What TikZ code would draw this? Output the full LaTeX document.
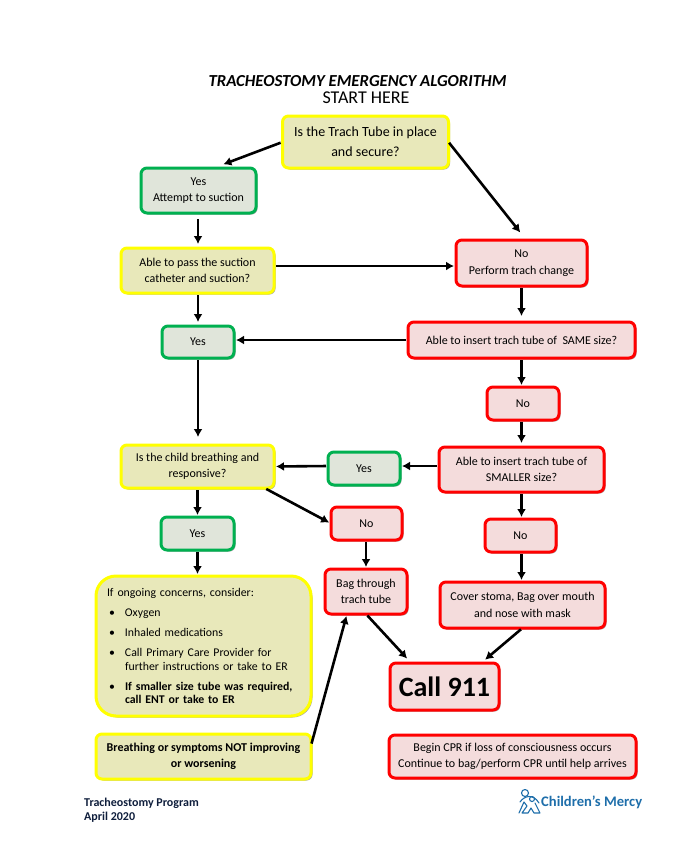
\documentclass[tikz,border=0pt]{standalone}
\usepackage{fontspec}
\setmainfont{Carlito}
\usetikzlibrary{shadows}
\usetikzlibrary{arrows.meta}
\definecolor{askfill}{RGB}{232,232,186}
\definecolor{yesfill}{RGB}{224,229,218}
\definecolor{nofill}{RGB}{244,220,220}
\definecolor{askline}{RGB}{255,255,0}
\definecolor{yesline}{RGB}{0,176,80}
\definecolor{noline}{RGB}{255,0,0}
\definecolor{mercy}{RGB}{30,110,170}
\definecolor{footer}{RGB}{15,30,60}

\begin{document}
\begin{tikzpicture}[
    x=1pt, y=-1pt,
    flowbox/.style={rounded corners=6pt, line width=3pt, outer sep=0pt, inner sep=0pt, align=center,
        font=\fontsize{12}{16.5}\selectfont, general shadow={shadow xshift=1.5pt, shadow yshift=-1.5pt, fill=black!35}},
    askbox/.style={flowbox, draw=askline, fill=askfill},
    yesbox/.style={flowbox, draw=yesline, fill=yesfill},
    nobox/.style={flowbox, draw=noline, fill=nofill},
    link/.style={-{Latex[length=8pt, width=9pt]}, line width=2.6pt, shorten <=2pt, shorten >=2pt},
    logoline/.style={mercy, line width=1.1pt, line join=round, line cap=round}
]
    \useasboundingbox (0, 0) rectangle (699, 855);

    \node[font=\fontsize{16.8}{18}\selectfont\bfseries\itshape] (title) at (357.5, 81) {TRACHEOSTOMY EMERGENCY ALGORITHM};
    \node[font=\fontsize{18}{18}\selectfont] (start) at (366, 98) {START HERE};

    \node[askbox, minimum width=166pt, minimum height=52pt, font=\fontsize{14}{20}\selectfont] (trach) at (365.5, 142) {Is the Trach Tube in place\\and secure?};
    \node[yesbox, minimum width=115pt, minimum height=45pt] (suction) at (198.5, 190.5) {Yes\\Attempt to suction};
    \node[askbox, minimum width=153pt, minimum height=45pt] (pass) at (197.5, 270.5) {Able to pass the suction\\catheter and suction?};
    \node[nobox, minimum width=131pt, minimum height=46pt] (change) at (521.5, 263) {No\\Perform trach change};
    \node[yesbox, minimum width=72pt, minimum height=32pt] (yesa) at (198, 342) {Yes};
    \node[nobox, minimum width=227pt, minimum height=36pt] (same) at (521.5, 340) {Able to insert trach tube of\ \ SAME size?};
    \node[nobox, minimum width=72pt, minimum height=33pt] (noa) at (523, 403.5) {No};
    \node[askbox, minimum width=153pt, minimum height=43pt] (breath) at (197.5, 466.5) {Is the child breathing and\\responsive?};
    \node[yesbox, minimum width=72pt, minimum height=33pt] (yesb) at (364, 468.5) {Yes};
    \node[nobox, minimum width=165pt, minimum height=45pt] (smaller) at (521.5, 469.5) {Able to insert trach tube of\\SMALLER size?};
    \node[yesbox, minimum width=73pt, minimum height=33pt] (yesc) at (197.5, 533.5) {Yes};
    \node[nobox, minimum width=71pt, minimum height=33pt] (nob) at (366.5, 523.5) {No};
    \node[nobox, minimum width=71pt, minimum height=33pt] (noc) at (520.5, 535.5) {No};
    \node[nobox, minimum width=82pt, minimum height=45pt] (bag) at (366, 591.5) {Bag through\\trach tube};
    \node[nobox, minimum width=165pt, minimum height=46pt] (cover) at (522.5, 605) {Cover stoma, Bag over mouth\\and nose with mask};
    \node[askbox, rounded corners=20pt, minimum width=215pt, minimum height=140pt, text width=193pt, align=left, font=\fontsize{11.8}{13.8}\selectfont] (ongoing) at (203.5, 646) {If ongoing concerns, consider:\\[6.2pt]
        \hspace*{2pt}\makebox[16pt][l]{\textbullet}Oxygen\\[6.2pt]
        \hspace*{2pt}\makebox[16pt][l]{\textbullet}Inhaled medications\\[6.2pt]
        \hspace*{2pt}\makebox[16pt][l]{\textbullet}Call Primary Care Provider for\\
        \hspace*{18pt}further instructions or take to ER\\[6.2pt]
        \hspace*{2pt}\makebox[16pt][l]{\textbullet}\textbf{If smaller size tube was required,}\\
        \hspace*{18pt}\textbf{call ENT or take to ER}};
    \node[nobox, minimum width=109pt, minimum height=47pt, font=\fontsize{28}{30}\selectfont\bfseries] (call) at (444.5, 686.5) {Call 911};
    \node[askbox, minimum width=215pt, minimum height=45pt, font=\fontsize{12}{16.5}\selectfont\bfseries] (worse) at (203.5, 756.5) {Breathing or symptoms NOT improving\\or worsening};
    \node[nobox, minimum width=247pt, minimum height=43pt] (cpr) at (512.5, 756.5) {Begin CPR if loss of consciousness occurs\\Continue to bag/perform CPR until help arrives};

    \draw[link] (trach.west) -- ([xshift=23pt, yshift=3pt]suction.north);
    \draw[link, shorten <=1pt] (trach.east) -- ([yshift=6pt]change.north);
    \draw[link, shorten <=6pt] ([xshift=-0.5pt]suction.south) -- ([xshift=0.5pt, yshift=2pt]pass.north);
    \draw[link] ([yshift=4.5pt]pass.east) -- ([yshift=-3pt]change.west);
    \draw[link] ([xshift=0.5pt]pass.south) -- ([yshift=2pt]yesa.north);
    \draw[link] (change.south) -- ([yshift=4pt]same.north);
    \draw[link] (same.west) -- ([yshift=2pt]yesa.east);
    \draw[link] (yesa.south) -- ([xshift=0.5pt, yshift=6pt]breath.north);
    \draw[link] (same.south) -- ([xshift=-1.5pt]noa.north);
    \draw[link] ([xshift=-1.5pt]noa.south) -- ([yshift=2pt]smaller.north);
    \draw[link] ([yshift=3.5pt]smaller.west) -- ([yshift=2.5pt]yesb.east);
    \draw[link] ([yshift=2.5pt]yesb.west) -- (breath.east);
    \draw[link] (breath.south) -- (yesc.north);
    \draw[link] ([xshift=67pt]breath.south) -- (nob.west);
    \draw[link] (smaller.south) -- ([xshift=1pt]noc.north);
    \draw[link] ([xshift=1pt]noc.south) -- ([xshift=-1pt]cover.north);
    \draw[link] (yesc.south) -- ([xshift=-6pt]ongoing.north);
    \draw[link] ([xshift=-0.5pt]nob.south) -- (bag.north);
    \draw[link] (bag.south) -- ([xshift=-36pt, yshift=3pt]call.north);
    \draw[link] (cover.south) -- ([xshift=39pt, yshift=2pt]call.north);
    \draw[link] ([yshift=11pt]worse.east) -- ([xshift=-19pt]bag.south);

    \node[anchor=west, inner sep=0pt, align=left, text=footer, font=\fontsize{12}{14}\selectfont\bfseries] (program) at (84, 810) {Tracheostomy Program\\April 2020};

    \node[anchor=west, inner sep=0pt, text=mercy, font=\fontsize{14.6}{15}\selectfont\bfseries] (mercytext) at (541, 802) {Children’s Mercy};
    \draw[logoline] (525, 793) circle (3.5pt);
    \draw[logoline] (532, 799) circle (2.5pt);
    \draw[logoline] (520, 802) .. controls (524, 796) and (533, 793) .. (539, 803);
    \draw[logoline] (519, 813) -- (524, 802) -- (527, 806) -- (522, 813) -- (528, 813) -- (531, 808) -- (534, 813) -- (540, 813) -- (535, 803);
\end{tikzpicture}
\end{document}
